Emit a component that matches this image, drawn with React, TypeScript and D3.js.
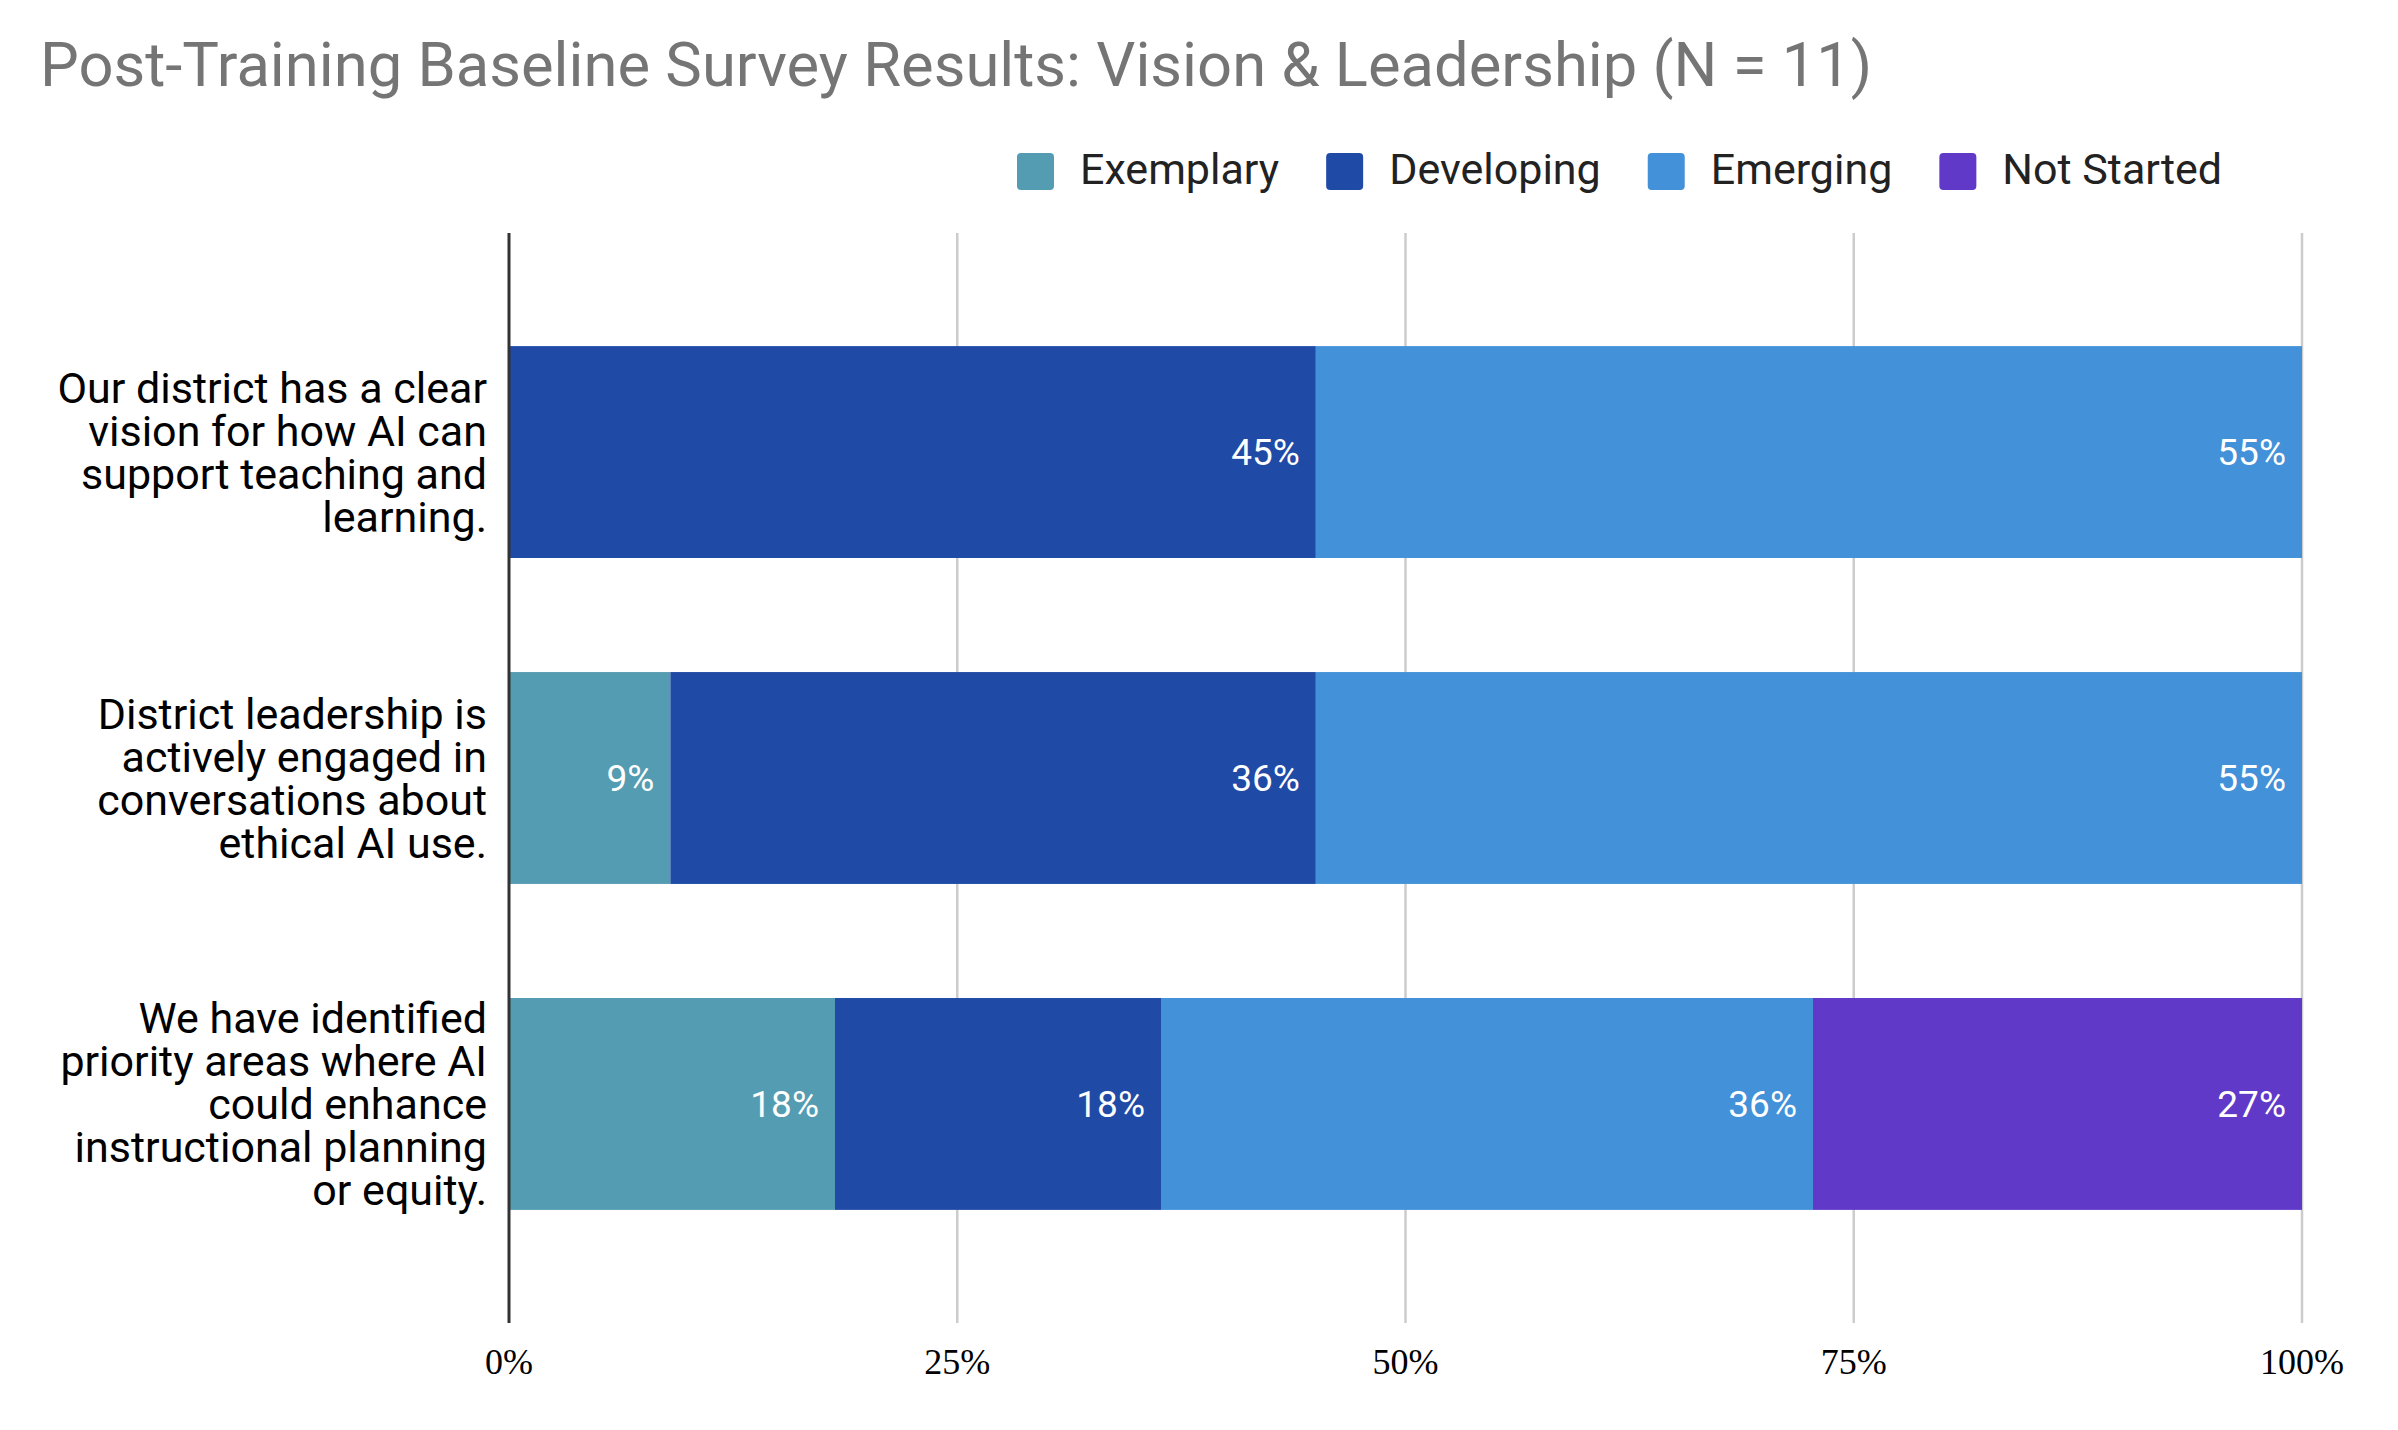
import React, { useEffect, useRef } from 'react';
import * as d3 from 'd3';

const questions = [
  ['Our district has a clear', 'vision for how AI can', 'support teaching and', 'learning.'],
  ['District leadership is', 'actively engaged in', 'conversations about', 'ethical AI use.'],
  ['We have identified', 'priority areas where AI', 'could enhance', 'instructional planning', 'or equity.'],
];
const levels = ['Exemplary', 'Developing', 'Emerging', 'Not Started'];
const levelColors = ['#549cb1', '#1f4aa6', '#4291d9', '#6039c9'];
// percent of respondents per level for each question (stacked to 100%)
const exemplary = [0, 9, 18];
const developing = [45, 36, 18];
const emerging = [55, 55, 36];
const notStarted = [0, 0, 27];
const xTicks = [0, 0.25, 0.5, 0.75, 1];

const W = 2398;
const H = 1430;

const App: React.FC = () => {
  const ref = useRef<SVGSVGElement>(null);

  useEffect(() => {
    const svg = d3.select(ref.current);
    svg.selectAll('*').remove();

    const left = 509;
    const right = 2302;
    const top = 233;
    const bottom = 1323;

    const x = d3.scaleLinear().domain([0, 1]).range([left, right]);
    const y = d3
      .scaleBand<number>()
      .domain(d3.range(questions.length))
      .range([top, bottom])
      .paddingInner(0.35)
      .paddingOuter(0.347);

    // title
    svg
      .append('text')
      .attr('x', 40)
      .attr('y', 86)
      .attr('font-family', 'Roboto')
      .attr('font-size', 61.5)
      .attr('fill', '#757575')
      .text('Post-Training Baseline Survey Results: Vision & Leadership (N = 11)');

    // legend
    let lx = 1017;
    levels.forEach((name, i) => {
      svg
        .append('rect')
        .attr('x', lx)
        .attr('y', 153)
        .attr('width', 37)
        .attr('height', 37)
        .attr('rx', 4)
        .attr('fill', levelColors[i]);
      const t = svg
        .append('text')
        .attr('x', lx + 37 + 26)
        .attr('y', 184)
        .attr('font-family', 'Roboto')
        .attr('font-size', 43)
        .attr('fill', '#222')
        .text(name);
      const len = (t.node() as SVGTextElement).getComputedTextLength();
      lx += 37 + 26 + len + 47;
    });

    // gridlines
    svg
      .append('g')
      .selectAll('line')
      .data(xTicks.slice(1))
      .enter()
      .append('line')
      .attr('x1', (d) => x(d))
      .attr('x2', (d) => x(d))
      .attr('y1', top)
      .attr('y2', bottom)
      .attr('stroke', '#cccccc')
      .attr('stroke-width', 2.5);

    // stacked bars (100% stacked)
    const rows = questions.map((_, i) => [exemplary[i], developing[i], emerging[i], notStarted[i]]);
    rows.forEach((vals, qi) => {
      const total = d3.sum(vals);
      let acc = 0;
      vals.forEach((v, li) => {
        if (v === 0) return;
        const x0 = x(acc / total);
        acc += v;
        const x1 = x(acc / total);
        svg
          .append('rect')
          .attr('x', x0)
          .attr('y', y(qi)!)
          .attr('width', x1 - x0)
          .attr('height', y.bandwidth())
          .attr('fill', levelColors[li]);
        svg
          .append('text')
          .attr('x', x1 - 16)
          .attr('y', y(qi)! + y.bandwidth() / 2)
          .attr('dy', '0.36em')
          .attr('text-anchor', 'end')
          .attr('font-family', 'Roboto')
          .attr('font-size', 37)
          .attr('fill', '#ffffff')
          .text(`${v}%`);
      });
    });

    // baseline axis
    svg
      .append('line')
      .attr('x1', left)
      .attr('x2', left)
      .attr('y1', top)
      .attr('y2', bottom)
      .attr('stroke', '#333333')
      .attr('stroke-width', 3);

    // category labels
    const lineH = 43;
    questions.forEach((lines, qi) => {
      const cy = y(qi)! + y.bandwidth() / 2;
      const t = svg
        .append('text')
        .attr('text-anchor', 'end')
        .attr('font-family', 'Roboto')
        .attr('font-size', 43)
        .attr('fill', '#000');
      lines.forEach((ln, k) => {
        t.append('tspan')
          .attr('x', 487)
          .attr('y', cy + (k - (lines.length - 1) / 2) * lineH)
          .attr('dy', '0.36em')
          .text(ln);
      });
    });

    // x tick labels
    svg
      .append('g')
      .selectAll('text')
      .data(xTicks)
      .enter()
      .append('text')
      .attr('x', (d) => x(d))
      .attr('y', 1374)
      .attr('text-anchor', 'middle')
      .attr('font-family', 'Liberation Serif')
      .attr('font-size', 36)
      .attr('fill', '#000')
      .text((d) => d3.format('.0%')(d));
  }, []);

  return (
    <svg
      ref={ref}
      width={W}
      height={H}
      style={{ position: 'absolute', left: 0, top: 0, background: '#fff' }}
    ></svg>
  );
};

export default App;
